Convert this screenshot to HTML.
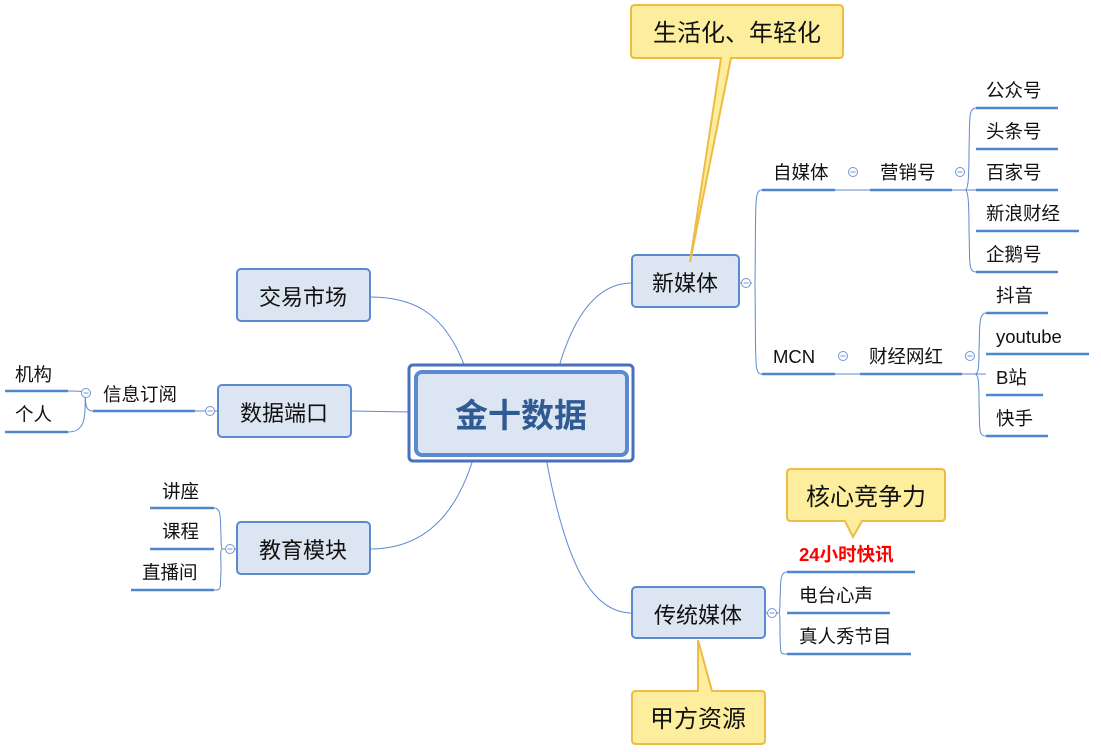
<!DOCTYPE html>
<html><head><meta charset="utf-8"><style>
body{margin:0;background:#fff}
svg text{font-family:"Liberation Sans","Noto Sans CJK SC",sans-serif;fill:#111}
</style></head><body>
<svg width="1101" height="747" viewBox="0 0 1101 747" xmlns="http://www.w3.org/2000/svg">
<g fill="none" stroke="#5b8ad0" stroke-width="1">
<path d="M558 370 C575 310,600 283,632 283"/>
<path d="M466 370 C445 310,410 297,370 297"/>
<path d="M351 411 L410 412"/>
<path d="M474 456 C455 520,420 549,370 549"/>
<path d="M546 458 C565 560,590 613,632 613"/>
<path d="M740 283 L752 283"/>
<path d="M762 190 C754 190,756 200,755 283 C756 366,754 374,762 374"/>
<path d="M835 190 L870 190 M835 374 L860 374"/>
<path d="M952 190 L976 190"/>
<path d="M976 108 C968 108,970 120,969 150 C969 180,968 190,965 190 C968 190,969 200,969 230 C970 262,968 272,976 272"/>
<path d="M962 374 L986 374"/>
<path d="M986 313 C978 313,980 330,979 350 C979 370,978 374,975 374 C978 374,979 380,979 400 C980 430,978 436,986 436"/>
<path d="M195 411 L218 411"/>
<path d="M93 411 C84 411,86 400,85 395 C85 391,80 391,68 391 M85 395 C86 420,84 432,68 432"/>
<path d="M237 549 L222 549"/>
<path d="M214 508 C222 508,220 520,221 535 C221 549,222 549,222 549 C220 549,221 560,221 570 C220 590,222 590,214 590"/>
<path d="M765 613 L779 613"/>
<path d="M787 572 C779 572,781 585,780 600 C780 613,779 613,779 613 C780 613,780 620,780 635 C781 654,779 654,787 654"/>
</g>
<g fill="none" stroke="#4f87cf" stroke-width="2.5">
<path d="M762 190H835M870 190H952M976 108H1058M976 149H1058M976 190H1058M976 231H1079M976 272H1058"/>
<path d="M762 374H835M860 374H962M986 313H1048M986 354H1089M986 395H1043M986 436H1048"/>
<path d="M93 411H195M5 391H68M5 432H68"/>
<path d="M150 508H214M150 549H214M131 590H214"/>
<path d="M787 572H915M787 613H890M787 654H911"/>
</g>
<g fill="#fff" stroke="#6f95d0" stroke-width="1">
<circle cx="746" cy="283" r="4.5"/><circle cx="853" cy="172" r="4.5"/><circle cx="960" cy="172" r="4.5"/>
<circle cx="843" cy="356" r="4.5"/><circle cx="970" cy="356" r="4.5"/><circle cx="210" cy="411" r="4.5"/>
<circle cx="86" cy="393" r="4.5"/><circle cx="230" cy="549" r="4.5"/><circle cx="772" cy="613" r="4.5"/>
</g>
<g stroke="#6f95d0" stroke-width="1">
<path d="M743.5 283h5M850.5 172h5M957.5 172h5M840.5 356h5M967.5 356h5M207.5 411h5M83.5 393h5M227.5 549h5M769.5 613h5"/>
</g>
<rect x="409" y="365" width="224" height="96" rx="4" fill="#fff" stroke="#4a6fbd" stroke-width="3"/>
<rect x="416" y="372" width="211" height="83" rx="6" fill="#dce6f2" stroke="#5b8ad0" stroke-width="4"/>
<text x="521" y="427" text-anchor="middle" font-size="33" font-weight="bold" style="fill:#2f5a94">金十数据</text>
<g fill="#dce6f2" stroke="#5b8ad0" stroke-width="2">
<rect x="632" y="255" width="107" height="52" rx="4"/>
<rect x="237" y="269" width="133" height="52" rx="4"/>
<rect x="218" y="385" width="133" height="52" rx="4"/>
<rect x="237" y="522" width="133" height="52" rx="4"/>
<rect x="632" y="587" width="133" height="51" rx="4"/>
</g>
<g font-size="22" text-anchor="middle">
<text x="685" y="291">新媒体</text>
<text x="303" y="305">交易市场</text>
<text x="284" y="421">数据端口</text>
<text x="303" y="558">教育模块</text>
<text x="698" y="623">传统媒体</text>
</g>
<g fill="#fcee9c" stroke="#eebb44" stroke-width="2">
<path d="M635 5H839Q843 5 843 9V54Q843 58 839 58H731L690 262L721 58H635Q631 58 631 54V9Q631 5 635 5Z"/>
<path d="M791 469H941Q945 469 945 473V517Q945 521 941 521H862L853 537L845 521H791Q787 521 787 517V473Q787 469 791 469Z"/>
<path d="M636 691H698L698 640L712 691H761Q765 691 765 695V740Q765 744 761 744H636Q632 744 632 740V695Q632 691 636 691Z"/>
</g>
<g font-size="24" text-anchor="middle">
<text x="737" y="41">生活化、年轻化</text>
<text x="866" y="505">核心竞争力</text>
<text x="698" y="727">甲方资源</text>
</g>
<g font-size="18.5">
<text x="773" y="179">自媒体</text>
<text x="880" y="179">营销号</text>
<text x="986" y="97">公众号</text>
<text x="986" y="138">头条号</text>
<text x="986" y="179">百家号</text>
<text x="986" y="220">新浪财经</text>
<text x="986" y="261">企鹅号</text>
<text x="773" y="363">MCN</text>
<text x="869" y="363">财经网红</text>
<text x="996" y="302">抖音</text>
<text x="996" y="343">youtube</text>
<text x="996" y="384">B站</text>
<text x="996" y="425">快手</text>
<text x="103" y="401">信息订阅</text>
<text x="15" y="381">机构</text>
<text x="15" y="421">个人</text>
<text x="162" y="498">讲座</text>
<text x="162" y="538">课程</text>
<text x="142" y="579">直播间</text>
<text x="799" y="561" font-weight="bold" style="fill:#ff0000">24小时快讯</text>
<text x="799" y="602">电台心声</text>
<text x="799" y="643">真人秀节目</text>
</g>
</svg>
</body></html>
